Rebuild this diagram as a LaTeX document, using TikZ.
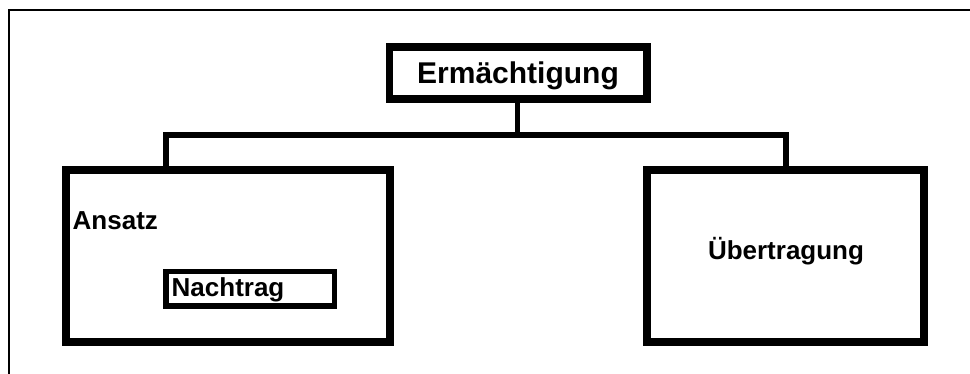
\documentclass[tikz,border=0pt]{standalone}
\usepackage{fontspec}
\setmainfont{Liberation Sans}
\begin{document}
\begin{tikzpicture}[x=1pt,y=-1pt,
  frame/.style={line width=2pt},
  bigbox/.style={draw, rectangle, line width=8pt, inner sep=0pt},
  titlebox/.style={draw, rectangle, line width=7.3pt, inner sep=0pt},
  smallbox/.style={draw, rectangle, line width=5.5pt, inner sep=0pt},
  conn/.style={line width=6pt, line join=miter},
  lbl/.style={inner sep=0pt, font=\fontsize{26}{30}\selectfont\bfseries},
  titlelbl/.style={inner sep=0pt, font=\fontsize{30}{36}\selectfont\bfseries}]
\useasboundingbox (0,0) rectangle (970,374);
% outer frame (top and left only)
\coordinate (ftr) at (970,10);
\coordinate (ftl) at (9,10);
\coordinate (fbl) at (9,374);
\draw[frame] (ftr) -- (ftl) -- (fbl);
% boxes
\node[titlebox, minimum width=257.3pt, minimum height=52pt] (erm) at (518.3,73) {};
\node[bigbox, minimum width=324pt, minimum height=172pt] (ans) at (228,256) {};
\node[bigbox, minimum width=277pt, minimum height=172pt] (ueb) at (785.5,256) {};
\node[smallbox, minimum width=168.5pt, minimum height=34.5pt] (nach) at (250.3,289) {};
% texts
\node[titlelbl, anchor=base] (ermt) at (518,83.3) {Ermächtigung};
\node[lbl, anchor=base west] (anst) at (72.5,230) {Ansatz};
\node[lbl, anchor=base west] (nacht) at (171.5,296.7) {Nachtrag};
\node[lbl, anchor=base] (uebt) at (786,260) {Übertragung};
% connectors
\coordinate (jm) at (517.5,135);
\coordinate (jl) at (165.7,135);
\coordinate (jr) at (785.7,135);
\draw[line width=5.5pt] (erm.south -| jm) -- (jm);
\draw[conn] (ans.north -| jl) -- (jl) -- (jr) -- (ueb.north -| jr);
\end{tikzpicture}
\end{document}
